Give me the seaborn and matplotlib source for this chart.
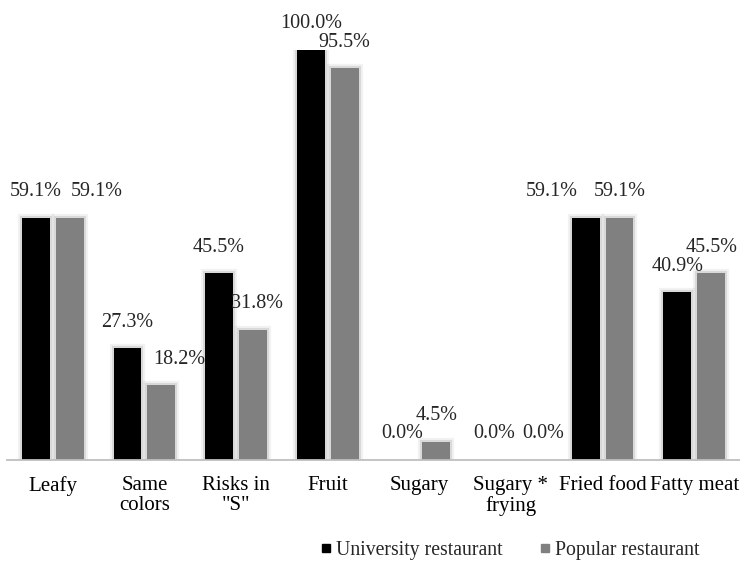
import matplotlib
matplotlib.use("Agg")
import matplotlib.pyplot as plt
from matplotlib.lines import Line2D
from matplotlib import patheffects as pe
import pandas as pd
import seaborn as sns

# Share of menus meeting each criterion, by restaurant type (%)
categories = ["Leafy", "Same\ncolors", "Risks in\n\"S\"", "Fruit", "Sugary",
              "Sugary *\nfrying", "Fried food", "Fatty meat"]
university = [59.1, 27.3, 45.5, 100.0, 0.0, 0.0, 59.1, 40.9]
popular = [59.1, 18.2, 31.8, 95.5, 4.5, 0.0, 59.1, 45.5]
series = ["University restaurant", "Popular restaurant"]
colors = ["#000000", "#808080"]

# horizontal nudges (pixels) for value labels that would otherwise collide
label_dx = {
    series[0]: [0, 0, 0, 0, 0, 0, -34, 0],
    series[1]: [27, 18, 4, 0, 0, 15, 0, 0],
}

df = pd.DataFrame({
    "category": categories * 2,
    "value": university + popular,
    "series": [series[0]] * len(categories) + [series[1]] * len(categories),
})

sns.set_theme(style="white")
plt.rcParams["font.family"] = ["Liberation Serif", "DejaVu Serif"]

fig = plt.figure(figsize=(7.40, 5.61), dpi=100)
ax = fig.add_axes([7 / 740, 101 / 561, 733 / 740, 410 / 561])

sns.barplot(data=df, x="category", y="value", hue="series",
            order=categories, hue_order=series,
            palette=dict(zip(series, colors)),
            width=0.74, gap=0.18, legend=False, ax=ax,
            saturation=1, linewidth=0)

glow = [pe.Stroke(linewidth=6, foreground="#000000", alpha=0.05),
        pe.Stroke(linewidth=3, foreground="#000000", alpha=0.10),
        pe.Normal()]

values = {series[0]: university, series[1]: popular}
for name, container in zip(series, ax.containers):
    for i, bar in enumerate(container):
        v = values[name][i]
        if v > 0:
            bar.set_path_effects(glow)
        ax.annotate(f"{v:.1f}%",
                    xy=(bar.get_x() + bar.get_width() / 2, bar.get_height()),
                    xytext=(label_dx[name][i], 26), textcoords="offset pixels",
                    ha="center", va="center", fontsize=14.5, color="#262626",
                    annotation_clip=False)

ax.set_xlim(-0.5, len(categories) - 0.5)
ax.set_ylim(0, 100)
ax.set_xlabel("")
ax.set_ylabel("")
ax.set_yticks([])
ax.tick_params(axis="x", length=0, pad=11.5, labelsize=15, labelcolor="#000000")
for lbl in ax.get_xticklabels():
    lbl.set_linespacing(1.05)
for side in ("left", "right", "top"):
    ax.spines[side].set_visible(False)
ax.spines["bottom"].set_color("#bfbfbf")
ax.spines["bottom"].set_linewidth(1.3)
ax.patch.set_alpha(0)

handles = [Line2D([], [], marker="s", linestyle="none", markersize=6,
                  markerfacecolor=c, markeredgecolor=c) for c in colors]
fig.legend(handles, series, loc="center", bbox_to_anchor=(510 / 740, 1 - 550 / 561),
           ncol=2, frameon=False, fontsize=14.2, handlelength=0.5,
           handletextpad=0.25, columnspacing=1.9, borderaxespad=0)

fig.savefig("out.png", dpi=100, facecolor="white")
